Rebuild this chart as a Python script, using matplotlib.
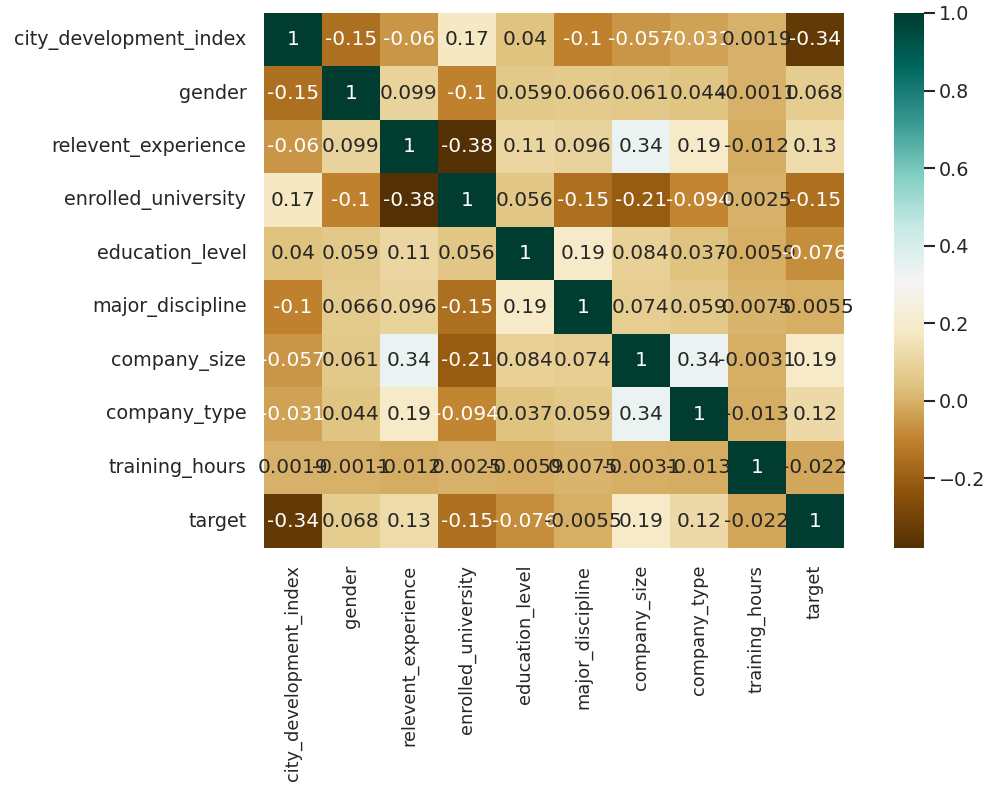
import numpy as np
import pandas as pd
import matplotlib
matplotlib.use("Agg")
import matplotlib.pyplot as plt
import seaborn as sns

labels = ["city_development_index", "gender", "relevent_experience", "enrolled_university",
          "education_level", "major_discipline", "company_size", "company_type",
          "training_hours", "target"]

# upper-triangle rows of the (symmetric) correlation matrix
r0 = [1, -0.15, -0.06, 0.17, 0.04, -0.1, -0.057, -0.031, 0.0019, -0.34]
r1 = [1, 0.099, -0.1, 0.059, 0.066, 0.061, 0.044, -0.0011, 0.068]
r2 = [1, -0.38, 0.11, 0.096, 0.34, 0.19, -0.012, 0.13]
r3 = [1, 0.056, -0.15, -0.21, -0.094, 0.0025, -0.15]
r4 = [1, 0.19, 0.084, 0.037, -0.0059, -0.076]
r5 = [1, 0.074, 0.059, 0.0075, -0.0055]
r6 = [1, 0.34, -0.0031, 0.19]
r7 = [1, -0.013, 0.12]
r8 = [1, -0.022]
r9 = [1]
rows = [r0, r1, r2, r3, r4, r5, r6, r7, r8, r9]

n = len(labels)
M = np.zeros((n, n))
for i, r in enumerate(rows):
    for k, v in enumerate(r):
        j = i + k
        M[i, j] = v
        M[j, i] = v
corr = pd.DataFrame(M, index=labels, columns=labels)

sns.set_theme(style="white")
plt.rcParams['font.family'] = ['DejaVu Sans']
fig = plt.figure(figsize=(9.88, 7.86), dpi=100)
ax = fig.add_axes([0.267, 0.3028, 0.587, 0.6807])
cax = fig.add_axes([0.905, 0.3028, 0.030, 0.6807])
sns.heatmap(corr, annot=True, cmap="BrBG", ax=ax, cbar_ax=cax,
            annot_kws={"fontsize": 14.5})
ax.tick_params(axis='y', labelsize=13.8, length=0, pad=12.5)
ax.tick_params(axis='x', labelsize=12.8, length=0, pad=12)
cax.tick_params(labelsize=13.8, length=8, width=1.5, pad=3)
fig.savefig("out.png", dpi=100)
